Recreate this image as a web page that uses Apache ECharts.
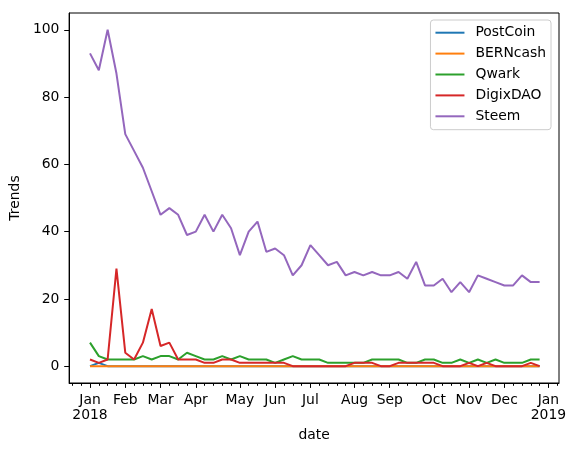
<!DOCTYPE html>
<html>
<head>
<meta charset="utf-8">
<script src="https://cdn.jsdelivr.net/npm/echarts@6/dist/echarts.min.js"></script>
<style>
  html, body { margin: 0; padding: 0; background: #fff; }
  #chart { width: 575px; height: 452px; }
</style>
</head>
<body>
<div id="chart"></div>
<script>
// weekly periods (week ending Sunday), x axis works in week index like pandas does
var weeks = ['2018-01-07','2018-01-14','2018-01-21','2018-01-28','2018-02-04','2018-02-11','2018-02-18','2018-02-25',
	'2018-03-04','2018-03-11','2018-03-18','2018-03-25','2018-04-01','2018-04-08','2018-04-15','2018-04-22','2018-04-29',
	'2018-05-06','2018-05-13','2018-05-20','2018-05-27','2018-06-03','2018-06-10','2018-06-17','2018-06-24','2018-07-01',
	'2018-07-08','2018-07-15','2018-07-22','2018-07-29','2018-08-05','2018-08-12','2018-08-19','2018-08-26','2018-09-02',
	'2018-09-09','2018-09-16','2018-09-23','2018-09-30','2018-10-07','2018-10-14','2018-10-21','2018-10-28','2018-11-04',
	'2018-11-11','2018-11-18','2018-11-25','2018-12-02','2018-12-09','2018-12-16','2018-12-23','2018-12-30'];

var postCoin = [0,1,0,0,0,0,0,0,0,0,0,0,0,0,0,0,0,0,0,0,0,0,0,0,0,0,
	0,0,0,0,0,0,0,0,0,0,0,0,0,0,0,0,0,0,0,0,0,0,0,0,0,0];
var bernCash = [0,0,0,0,0,0,0,0,0,0,0,0,0,0,0,0,0,0,0,0,0,0,0,0,0,0,
	0,0,0,0,0,0,0,0,0,0,0,0,0,0,0,0,0,0,0,0,0,0,0,0,0,0];
var qwark = [7,3,2,2,2,2,3,2,3,3,2,4,3,2,2,3,2,3,2,2,2,1,2,3,2,2,
	2,1,1,1,1,1,2,2,2,2,1,1,2,2,1,1,2,1,2,1,2,1,1,1,2,2];
var digixDAO = [2,1,2,29,4,2,7,17,6,7,2,2,2,1,1,2,2,1,1,1,1,1,1,0,0,0,
	0,0,0,0,1,1,1,0,0,1,1,1,1,1,0,0,0,1,0,1,0,0,0,0,1,0];
var steem = [93,88,100,87,69,64,59,52,45,47,45,39,40,45,40,45,41,33,40,43,34,35,33,27,30,36,
	33,30,31,27,28,27,28,27,27,28,26,31,24,24,26,22,25,22,27,26,25,24,24,27,25,25];

// month ticks sit on the week that holds the 1st of the month
var monthTicks = [0,4,8,12,17,21,25,30,34,39,43,47,52];
var monthLabels = ['Jan\n2018','Feb','Mar','Apr','May','Jun','Jul','Aug','Sep','Oct','Nov','Dec','Jan\n2019'];
var yTicks = [0,20,40,60,80,100];

var xMin = -2.37, xMax = 53.2;

var weekTicks = [];
for (var w = -2; w <= 53; w++) {
	if (monthTicks.indexOf(w) < 0) weekTicks.push(w);
}

function pairs(arr) {
	var out = [];
	for (var i = 0; i < arr.length; i++) out.push([i, arr[i]]);
	return out;
}

var font = 'DejaVu Sans';
var names = ['PostCoin','BERNcash','Qwark','DigixDAO','Steem'];
var colors = ['#1f77b4','#ff7f0e','#2ca02c','#d62728','#9467bd'];
var values = [postCoin, bernCash, qwark, digixDAO, steem];

var series = [];
for (var s = 0; s < names.length; s++) {
	series.push({
		name: names[s],
		type: 'line',
		xAxisIndex: 0,
		data: pairs(values[s]),
		showSymbol: false,
		symbol: 'none',
		lineStyle: { width: 2, color: colors[s] },
		itemStyle: { color: colors[s] },
		emphasis: { disabled: true }
	});
}

var chart = echarts.init(document.getElementById('chart'), null, { renderer: 'canvas' });
chart.setOption({
	animation: false,
	backgroundColor: '#fff',
	textStyle: { fontFamily: font },
	grid: {
		left: 67, right: 16, top: 13, bottom: 69,
		show: true, borderColor: '#000', borderWidth: 1
	},
	legend: {
		orient: 'vertical',
		right: 24,
		top: 20,
		align: 'left',
		padding: [5.7, 5, 6.4, 5],
		itemGap: 6.9,
		itemWidth: 29,
		itemHeight: 2,
		icon: 'rect',
		backgroundColor: 'rgba(255,255,255,0.8)',
		borderColor: '#cccccc',
		borderWidth: 1,
		borderRadius: 3,
		textStyle: { fontFamily: font, fontSize: 13.9, color: '#000', lineHeight: 14, padding: [0, 0, 0, 6] },
		data: names
	},
	xAxis: [{
		type: 'value',
		min: xMin, max: xMax,
		name: 'date',
		nameLocation: 'middle',
		nameGap: 45,
		nameTextStyle: { fontFamily: font, fontSize: 13.9, color: '#000' },
		splitLine: { show: false },
		axisLine: { show: true, onZero: false, lineStyle: { color: '#000', width: 1 } },
		axisTick: { show: true, customValues: monthTicks, length: 4.9, lineStyle: { color: '#000', width: 1 } },
		axisLabel: {
			customValues: monthTicks,
			margin: 9.7,
			fontFamily: font, fontSize: 13.9, color: '#000', lineHeight: 15,
			formatter: function (v) {
				var k = monthTicks.indexOf(Math.round(v));
				return k >= 0 ? monthLabels[k] : '';
			}
		}
	}, {
		type: 'value',
		min: xMin, max: xMax,
		position: 'bottom',
		gridIndex: 0,
		splitLine: { show: false },
		axisLine: { show: false, onZero: false },
		axisTick: { show: true, customValues: weekTicks, length: 2.8, lineStyle: { color: '#000', width: 1 } },
		axisLabel: { show: false }
	}],
	yAxis: {
		type: 'value',
		min: -5, max: 105,
		name: 'Trends',
		nameLocation: 'middle',
		nameGap: 39,
		nameTextStyle: { fontFamily: font, fontSize: 13.9, color: '#000' },
		splitLine: { show: false },
		axisLine: { show: true, onZero: false, lineStyle: { color: '#000', width: 1 } },
		axisTick: { show: true, customValues: yTicks, length: 4.9, lineStyle: { color: '#000', width: 1 } },
		axisLabel: { customValues: yTicks, margin: 9.7, fontFamily: font, fontSize: 13.9, color: '#000' }
	},
	series: series
});
</script>
</body>
</html>
